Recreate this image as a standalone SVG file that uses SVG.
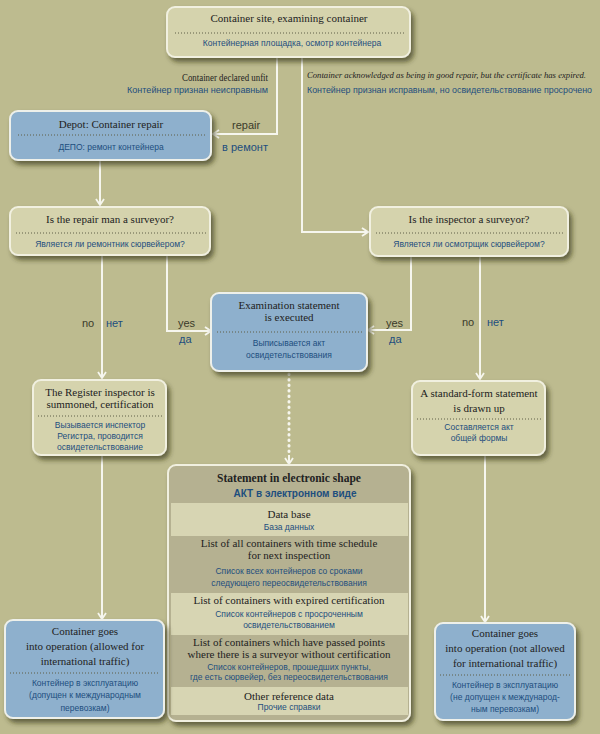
<svg xmlns="http://www.w3.org/2000/svg" width="600" height="734" viewBox="0 0 600 734">
<defs>
<filter id="sh" x="-10%" y="-10%" width="130%" height="140%">
<feDropShadow dx="3" dy="4" stdDeviation="2.5" flood-color="#2e2e18" flood-opacity="0.65"/>
</filter>
<marker id="ar" viewBox="-8 -5 9 10" refX="0" refY="0" markerWidth="9" markerHeight="10" markerUnits="userSpaceOnUse" orient="auto">
<path d="M-6,-4 L0,0 L-6,4" fill="none" stroke="#f6f6ee" stroke-width="1.8" stroke-linejoin="miter"/>
</marker>
<style>
.bx{fill:#d5d3ad;stroke:#f1f0e0;stroke-width:2;filter:url(#sh)}
.bl{fill:#8eb0cd;stroke:#eef0ea;stroke-width:2;filter:url(#sh)}
.el{fill:#b5b191;stroke:#f1f0e0;stroke-width:2;filter:url(#sh)}
.st{fill:#d7d5b3}
.dt{stroke:#5e5e46;stroke-width:1;stroke-dasharray:1,2}
.en{font-family:"Liberation Serif",serif;font-size:11px;fill:#222;text-anchor:middle}
.ru{font-family:"Liberation Sans",sans-serif;font-size:8.5px;fill:#1d4e7e;text-anchor:middle}
.lb{font-family:"Liberation Sans",sans-serif;font-size:11px;fill:#3a3a2a}
.lr{font-family:"Liberation Sans",sans-serif;font-size:11px;fill:#1d4e7e}
.cn{fill:none;stroke:#f6f6ee;stroke-width:2}
</style>
</defs>
<rect width="600" height="734" fill="#bdbb8f"/>

<g id="connectors">
<path class="cn" d="M277,57 V134 H213" marker-end="url(#ar)"/>
<path class="cn" d="M302,57 V232 H368" marker-end="url(#ar)"/>
<path class="cn" d="M100,160 V205" marker-end="url(#ar)"/>
<path class="cn" d="M102,255 V378" marker-end="url(#ar)"/>
<path class="cn" d="M167,255 V331 H211" marker-end="url(#ar)"/>
<path class="cn" d="M411,256 V330 H368" marker-end="url(#ar)"/>
<path class="cn" d="M480,256 V379" marker-end="url(#ar)"/>
<path class="cn" d="M102,455 V619" marker-end="url(#ar)"/>
<path class="cn" d="M485,455 V622" marker-end="url(#ar)"/>
<path d="M289,374 V455" fill="none" stroke="#f6f6ee" stroke-width="3" stroke-linecap="round" stroke-dasharray="0.5,5"/>
<path class="cn" d="M289,455 V464" marker-end="url(#ar)"/>
<text class="en" x="268" y="81" textLength="86" lengthAdjust="spacingAndGlyphs" style="text-anchor:end;font-size:10.5px">Container declared unfit</text>
<text class="ru" x="268" y="93" textLength="141" lengthAdjust="spacingAndGlyphs" style="text-anchor:end;font-size:9px">Контейнер признан неисправным</text>
<text class="en" x="307" y="78" textLength="279" lengthAdjust="spacingAndGlyphs" style="text-anchor:start;font-size:8.4px;font-style:italic">Container acknowledged as being in good repair, but the certificate has expired.</text>
<text class="ru" x="307" y="93" textLength="285" lengthAdjust="spacingAndGlyphs" style="text-anchor:start;font-size:9px">Контейнер признан исправным, но освидетельствование просрочено</text>
<text class="lb" x="232" y="129">repair</text>
<text class="lr" x="222" y="151">в ремонт</text>
<text class="lb" x="82" y="327">no</text>
<text class="lr" x="106" y="327">нет</text>
<text class="lb" x="178" y="327">yes</text>
<text class="lr" x="179" y="343">да</text>
<text class="lb" x="386" y="327">yes</text>
<text class="lr" x="389" y="343">да</text>
<text class="lb" x="462" y="326">no</text>
<text class="lr" x="487" y="326">нет</text>
</g>

<g id="site">
<rect class="bx" x="167" y="7" width="243" height="50" rx="8"/>
<text class="en" x="289" y="22">Container site, examining container</text>
<line class="dt" x1="175" y1="33" x2="405" y2="33"/>
<text class="ru" x="292" y="46">Контейнерная площадка, осмотр контейнера</text>
</g>

<g id="depot">
<rect class="bl" x="10" y="111" width="201" height="49" rx="8"/>
<text class="en" x="111" y="128">Depot: Container repair</text>
<line class="dt" x1="18" y1="135" x2="205" y2="135"/>
<text class="ru" x="111" y="150">ДЕПО: ремонт контейнера</text>
</g>

<g id="repairman">
<rect class="bx" x="10" y="207" width="200" height="48" rx="8"/>
<text class="en" x="110" y="223">Is the repair man a surveyor?</text>
<line class="dt" x1="16" y1="233" x2="206" y2="233"/>
<text class="ru" x="110" y="247">Является ли ремонтник сюрвейером?</text>
</g>

<g id="inspector">
<rect class="bx" x="370" y="207" width="198" height="49" rx="8"/>
<text class="en" x="469" y="223">Is the inspector a surveyor?</text>
<line class="dt" x1="376" y1="233" x2="564" y2="233"/>
<text class="ru" x="469" y="247">Является ли осмотрщик сюрвейером?</text>
</g>

<g id="examination">
<rect class="bl" x="211" y="293" width="156" height="78" rx="8"/>
<text class="en" x="289" y="309">Examination statement</text>
<text class="en" x="289" y="321">is executed</text>
<line class="dt" x1="217" y1="332" x2="363" y2="332"/>
<text class="ru" x="289" y="346">Выписывается акт</text>
<text class="ru" x="289" y="358">освидетельствования</text>
</g>

<g id="register">
<rect class="bx" x="33" y="380" width="133" height="75" rx="8"/>
<text class="en" x="100" y="396">The Register inspector is</text>
<text class="en" x="100" y="408">summoned, certification</text>
<line class="dt" x1="38" y1="416" x2="162" y2="416"/>
<text class="ru" x="100" y="428">Вызывается инспектор</text>
<text class="ru" x="100" y="439">Регистра, проводится</text>
<text class="ru" x="100" y="450">освидетельствование</text>
</g>

<g id="standard">
<rect class="bx" x="412" y="381" width="133" height="74" rx="8"/>
<text class="en" x="479" y="397">A standard-form statement</text>
<text class="en" x="479" y="412">is drawn up</text>
<line class="dt" x1="417" y1="419" x2="541" y2="419"/>
<text class="ru" x="479" y="430">Составляется акт</text>
<text class="ru" x="479" y="441">общей формы</text>
</g>

<g id="electronic">
<rect class="el" x="168" y="465" width="242" height="256" rx="8"/>
<rect class="st" x="171" y="503" width="237" height="33"/>
<rect class="st" x="171" y="593" width="237" height="42"/>
<rect class="st" x="171" y="687" width="237" height="28"/>
<text class="en" x="289" y="482" style="font-weight:bold;font-size:11.5px">Statement in electronic shape</text>
<text class="ru" x="295" y="497" style="font-weight:bold;font-size:10px">АКТ в электронном виде</text>
<text class="en" x="289" y="518">Data base</text>
<text class="ru" x="289" y="530">База данных</text>
<text class="en" x="289" y="547">List of all containers with time schedule</text>
<text class="en" x="289" y="559">for next inspection</text>
<text class="ru" x="289" y="574">Список всех контейнеров со сроками</text>
<text class="ru" x="289" y="586">следующего переосвидетельствования</text>
<text class="en" x="289" y="604">List of containers with expired certification</text>
<text class="ru" x="289" y="617">Список контейнеров с просроченным</text>
<text class="ru" x="289" y="628">освидетельствованием</text>
<text class="en" x="289" y="646">List of containers which have passed points</text>
<text class="en" x="289" y="658">where there is a surveyor without certification</text>
<text class="ru" x="289" y="670">Список контейнеров, прошедших пункты,</text>
<text class="ru" x="289" y="680">где есть сюрвейер, без переосвидетельствования</text>
<text class="en" x="289" y="700">Other reference data</text>
<text class="ru" x="289" y="710">Прочие справки</text>
</g>

<g id="operation-allowed">
<rect class="bl" x="5" y="620" width="159" height="98" rx="8"/>
<text class="en" x="85" y="635">Container goes</text>
<text class="en" x="85" y="650">into operation (allowed for</text>
<text class="en" x="85" y="665">international traffic)</text>
<line class="dt" x1="10" y1="673" x2="160" y2="673"/>
<text class="ru" x="85" y="686">Контейнер в эксплуатацию</text>
<text class="ru" x="85" y="698">(допущен к международным</text>
<text class="ru" x="85" y="711">перевозкам)</text>
</g>

<g id="operation-not-allowed">
<rect class="bl" x="435" y="623" width="140" height="97" rx="8"/>
<text class="en" x="505" y="637">Container goes</text>
<text class="en" x="505" y="652">into operation (not allowed</text>
<text class="en" x="505" y="667">for international traffic)</text>
<line class="dt" x1="440" y1="675" x2="571" y2="675"/>
<text class="ru" x="505" y="688">Контейнер в эксплуатацию</text>
<text class="ru" x="505" y="700">(не допущен к международ-</text>
<text class="ru" x="505" y="712">ным перевозкам)</text>
</g>
</svg>
